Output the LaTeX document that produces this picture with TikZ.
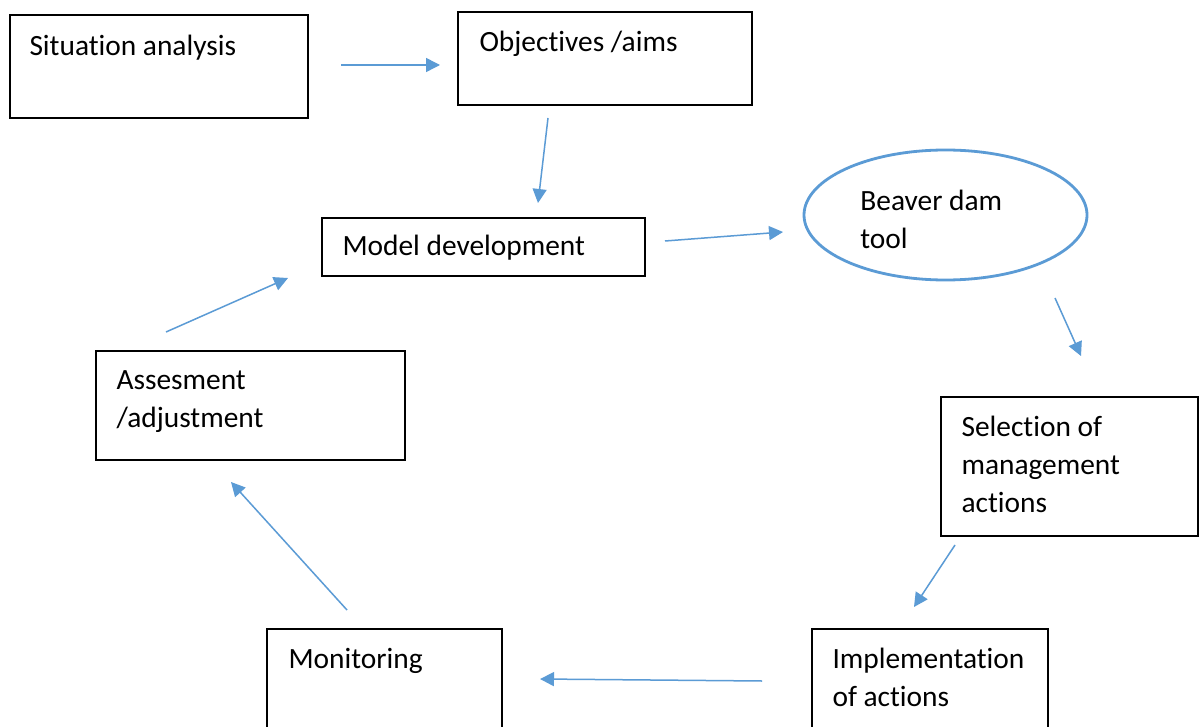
\documentclass[tikz,border=0pt]{standalone}
\usepackage{fontspec}
\setmainfont[RawFeature={-liga;-clig;-calt;-dlig}]{Carlito}
\usetikzlibrary{positioning,shapes.geometric,arrows.meta}
\definecolor{officeblue}{HTML}{5B9BD5}

\begin{document}
\begin{tikzpicture}[x=0.5pt,y=-0.5pt,font=\fontsize{14.7}{19}\selectfont,
box/.style={draw=black,line width=0.9pt,fill=white,inner sep=0pt},
ell/.style={ellipse,draw=officeblue,line width=1.4pt,inner sep=0pt},
txt/.style={anchor=north west,align=left,inner sep=0pt},
arr/.style={-{Triangle[length=7pt,width=7pt]},line width=0.75pt,draw=officeblue}]
\clip (0,0) rectangle (1199,727);
\fill[white] (0,0) rectangle (1199,727);
\node[box,minimum width=149pt,minimum height=51.5pt] (sit) at (159,66.5) {};
\node[box,minimum width=147pt,minimum height=46.5pt] (obj) at (605,58.5) {};
\node[box,minimum width=161.5pt,minimum height=29pt] (mod) at (483.5,247) {};
\node[ell,minimum width=141.5pt,minimum height=65pt] (tool) at (945.5,215) {};
\node[box,minimum width=128.5pt,minimum height=69.5pt] (sel) at (1069.5,466.5) {};
\node[box,minimum width=118pt,minimum height=60pt] (imp) at (930,689) {};
\node[box,minimum width=117.5pt,minimum height=60pt] (mon) at (384.5,689) {};
\node[box,minimum width=154.5pt,minimum height=54.5pt] (ass) at (250.5,405.5) {};
\node[txt] (sit-t) at ([shift={(20,21)}]sit.north west) {Situation analysis};
\node[txt] (obj-t) at ([shift={(22,20)}]obj.north west) {Objectives /aims};
\node[txt] (mod-t) at ([shift={(21,18)}]mod.north west) {Model development};
\node[txt] (tool-t) at (860,190) {Beaver dam\\tool};
\node[txt] (sel-t) at ([shift={(21,20)}]sel.north west) {Selection of\\management\\actions};
\node[txt] (imp-t) at ([shift={(21,20)}]imp.north west) {Implementation\\of actions};
\node[txt] (mon-t) at ([shift={(22,20)}]mon.north west) {Monitoring};
\node[txt] (ass-t) at ([shift={(21,20)}]ass.north west) {Assesment\\/adjustment};
\coordinate (a1) at (341,65);   \coordinate (b1) at (440,65);
\coordinate (a2) at (548,118);  \coordinate (b2) at (538,203);
\coordinate (a3) at (665,241);  \coordinate (b3) at (783,232);
\coordinate (a4) at (1055,298); \coordinate (b4) at (1081,356);
\coordinate (a5) at (955,545);  \coordinate (b5) at (914,607);
\coordinate (a6) at (762,681);  \coordinate (b6) at (540,679);
\coordinate (a7) at (347,610);  \coordinate (b7) at (231,482);
\coordinate (a8) at (166,332);  \coordinate (b8) at (288,278);
\draw[arr] (a1)--(b1);
\draw[arr] (a2)--(b2);
\draw[arr] (a3)--(b3);
\draw[arr] (a4)--(b4);
\draw[arr] (a5)--(b5);
\draw[arr] (a6)--(b6);
\draw[arr] (a7)--(b7);
\draw[arr] (a8)--(b8);
\end{tikzpicture}
\end{document}
